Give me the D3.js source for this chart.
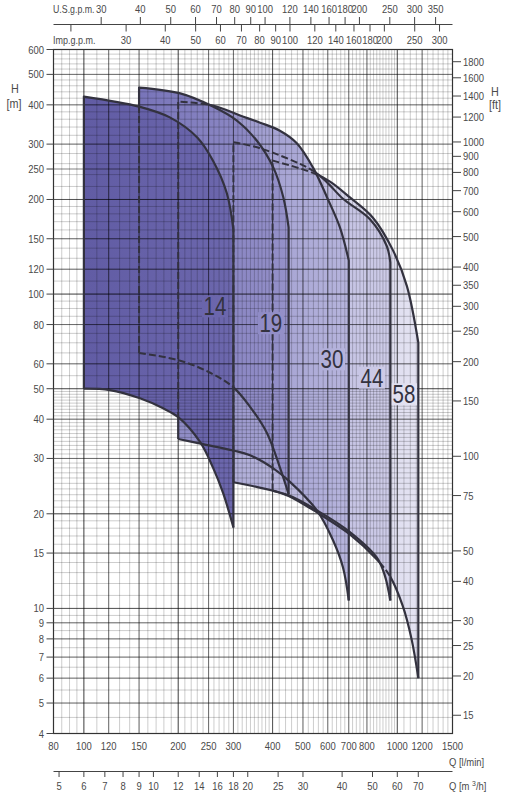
<!DOCTYPE html>
<html><head><meta charset="utf-8">
<script src="https://cdn.jsdelivr.net/npm/d3@7"></script>
<style>
html,body{margin:0;padding:0;background:#fff;}
svg text{font-family:"Liberation Sans",Arial,sans-serif;fill:#4a4a4a;}
</style></head><body>
<svg id="chart" width="513" height="800"></svg>
<script>
// ---------- data ----------
const Q_TICKS = [80,100,120,150,200,250,300,400,500,600,700,800,1000,1200,1500];
const M3H_TICKS = [5,6,7,8,9,10,12,14,16,18,20,25,30,40,50,60,70];
const USGPM_TICKS = [30,40,50,60,70,80,90,100,120,140,160,180,200,250,300,350];
const IMPGPM_TICKS = [20,30,40,50,60,70,80,90,100,120,140,160,180,200,250,300];
const IMPGPM_UNLABELED = [20];
const H_TICKS = [600,500,400,300,250,200,150,120,100,80,60,50,40,30,20,15,10,9,8,7,6,5,4];
const FT_TICKS = [1800,1600,1400,1200,1000,900,800,700,600,500,400,350,300,250,200,150,100,75,50,40,30,25,20,15];

const SERIES = ["14","19","30","44","58"];
const Q_MIN = [100,150,200,300,400];
const Q_MAX = [300,450,700,950,1167];
// [Q l/min, H m]
const TOP_14 = [[100,425],[150,395],[188,365],[230,315],[258,266],[286,209],[300,160]];
const BOT_14 = [[100,50],[121,49.5],[151,46.6],[179,43.3],[200,40.6],[235,33.8],[258,28.1],[278,23.3],[300,18.1]];
const TOP_19 = [[150,454],[203,435],[258,395],[307,357],[356,308],[402,253],[433,203],[450,163]];
const BOT_19 = [[150,65],[203,61.4],[253,56.2],[300,50.5],[339,43.8],[384,36.1],[422,28.1],[450,23.1]];
const TOP_30 = [[200,410],[258,398],[315,370],[365,351],[422,331],[478,302],[538,253],[597,203],[656,163],[700,128]];
const BOT_30 = [[200,34.6],[240,33.3],[300,31.8],[339,30.7],[402,27.9],[450,25.5],[554,20.5],[623,16.5],[671,13.5],[700,10.6]];
const TOP_44 = [[300,304],[365,291],[538,247],[601,225],[671,201],[818,173],[926,142],[950,126]];
const BOT_44 = [[300,25.2],[339,24.6],[450,22.9],[554,20.5],[706,17.5],[861,14.5],[913,12.7],[950,10.6]];
const TOP_58 = [[400,266],[538,243],[610,228],[706,203],[836,175],[968,138],[1073,106],[1167,70]];
const BOT_58 = [[400,23.7],[450,22.8],[554,20.2],[706,17.2],[861,14.3],[950,12.6],[1040,10.2],[1110,8],[1167,6]];
const TOPS = [TOP_14,TOP_19,TOP_30,TOP_44,TOP_58];
const BOTS = [BOT_14,BOT_19,BOT_30,BOT_44,BOT_58];
// which front series make a bottom curve dashed
const BOT_HIDDEN_BY = [[],[0],[],[],[3]];
// label anchors in data units [Q, H]
const LABEL_AT = [[262,91.4],[395,80.8],[619,62],[830,54.2],[1050,48]];

// ---------- styles ----------
const GRAD = [["#615ca4","#6c67ad"],["#7874b9","#9591c9"],["#8e8bc5","#b7b5dd"],["#afadd8","#cecce8"],["#cac9e5","#e4e3f2"]];
const INK = "#33323f";

const svg = d3.select("#chart");
const x = d3.scaleLog().domain([80,1500]).range([53.5,452.5]);
const y = d3.scaleLog().domain([4,600]).range([733.5,49.5]);
const X0 = x.range()[0], X1 = x.range()[1], Y0 = y.range()[1], Y1 = y.range()[0];

function txt(g, xx, yy, str, anchor, size, sx){
  return g.append("text").attr("transform",`translate(${xx},${yy}) scale(${sx||0.86},1)`)
    .attr("text-anchor",anchor||"start").style("font-size",size||"11px").text(str);
}

const defs = svg.append("defs");
const line = d3.line().x(d=>x(d[0])).y(d=>y(d[1])).curve(d3.curveCatmullRom.alpha(0.5));
function upperPath(i){
  const t = line(TOPS[i]);
  const b = BOTS[i];
  return `M${x(b[0][0])},${y(b[0][1])}L` + t.slice(1) + `L${x(b[b.length-1][0])},${y(b[b.length-1][1])}`;
}
function bottomPath(i){ return line(BOTS[i]); }
function regionPath(i){
  const t = line(TOPS[i]);
  const b = line(BOTS[i].slice().reverse());
  return t + "L" + b.slice(1) + "Z";
}
const paths = SERIES.map((s,i)=>regionPath(i));

SERIES.forEach((s,i)=>{
  const g = defs.append("linearGradient").attr("id","g"+i).attr("gradientUnits","userSpaceOnUse")
    .attr("x1",x(Q_MIN[i])).attr("x2",x(Q_MAX[i])).attr("y1",0).attr("y2",0);
  g.append("stop").attr("offset",0).attr("stop-color",GRAD[i][0]);
  g.append("stop").attr("offset",1).attr("stop-color",GRAD[i][1]);
});
function makeMasks(id, hiders){
  const mv = defs.append("mask").attr("id","mv"+id).attr("maskUnits","userSpaceOnUse")
    .attr("x",0).attr("y",0).attr("width",513).attr("height",800);
  mv.append("rect").attr("width",513).attr("height",800).attr("fill","#fff");
  const mh = defs.append("mask").attr("id","mh"+id).attr("maskUnits","userSpaceOnUse")
    .attr("x",0).attr("y",0).attr("width",513).attr("height",800);
  mh.append("rect").attr("width",513).attr("height",800).attr("fill","#000");
  hiders.forEach(j=>{
    mv.append("path").attr("d",paths[j]).attr("fill","#000");
    mh.append("path").attr("d",paths[j]).attr("fill","#fff");
  });
}
SERIES.forEach((s,i)=>{
  makeMasks("u"+i, d3.range(i));
  makeMasks("b"+i, BOT_HIDDEN_BY[i]);
});

// fills, back to front
for(let i=SERIES.length-1;i>=0;i--){
  svg.append("path").attr("d",paths[i]).attr("fill","url(#g"+i+")");
}

// ---------- grid ----------
function seq(a,b,s){const r=[];for(let v=a;v<=b+1e-9;v+=s)r.push(+v.toFixed(4));return r;}
const minorQ = [].concat(seq(80,100,5),seq(100,200,10),seq(200,400,10),seq(400,1000,20),seq(1000,1500,50));
const minorH = [].concat(seq(4,10,0.5),seq(10,20,1),seq(20,50,1),seq(50,100,5),seq(100,200,10),seq(200,600,20));
const gGrid = svg.append("g");
gGrid.selectAll(".vq").data(minorQ).enter().append("line")
  .attr("x1",d=>x(d)).attr("x2",d=>x(d)).attr("y1",Y0).attr("y2",Y1)
  .attr("stroke","#000").attr("stroke-opacity",0.25).attr("stroke-width",0.8);
gGrid.selectAll(".hq").data(minorH).enter().append("line")
  .attr("y1",d=>y(d)).attr("y2",d=>y(d)).attr("x1",X0).attr("x2",X1)
  .attr("stroke","#000").attr("stroke-opacity",0.25).attr("stroke-width",0.8);
gGrid.selectAll(".vM").data(Q_TICKS).enter().append("line")
  .attr("x1",d=>x(d)).attr("x2",d=>x(d)).attr("y1",Y0).attr("y2",Y1)
  .attr("stroke","#000").attr("stroke-opacity",0.55).attr("stroke-width",0.9);
gGrid.selectAll(".hM").data(H_TICKS).enter().append("line")
  .attr("y1",d=>y(d)).attr("y2",d=>y(d)).attr("x1",X0).attr("x2",X1)
  .attr("stroke","#000").attr("stroke-opacity",0.55).attr("stroke-width",0.9);

// ---------- hidden (dashed) outlines ----------
SERIES.forEach((s,i)=>{
  if(i>0) svg.append("path").attr("d",upperPath(i)).attr("fill","none").attr("stroke",INK)
    .attr("stroke-width",2).attr("stroke-dasharray","7,3").attr("mask","url(#mhu"+i+")");
  if(BOT_HIDDEN_BY[i].length) svg.append("path").attr("d",bottomPath(i)).attr("fill","none").attr("stroke",INK)
    .attr("stroke-width",2).attr("stroke-dasharray","7,3").attr("mask","url(#mhb"+i+")");
});
// series labels
const gLab = svg.append("g");
SERIES.forEach((s,i)=>{
  const cx = x(LABEL_AT[i][0]), cy = y(LABEL_AT[i][1]);
  gLab.append("rect").attr("x",cx-13).attr("y",cy-11).attr("width",26).attr("height",22).attr("fill","url(#g"+i+")");
  txt(gLab, cx, cy+9, s, "middle", "25px", 0.82).style("fill",INK);
});
// visible (solid) outlines
for(let i=SERIES.length-1;i>=0;i--){
  svg.append("path").attr("d",upperPath(i)).attr("fill","none").attr("stroke",INK)
    .attr("stroke-width",2.2).attr("stroke-linejoin","round").attr("mask","url(#mvu"+i+")");
  svg.append("path").attr("d",bottomPath(i)).attr("fill","none").attr("stroke",INK)
    .attr("stroke-width",2.2).attr("stroke-linejoin","round").attr("mask","url(#mvb"+i+")");
}

// ---------- frame and axes ----------
svg.append("rect").attr("x",X0).attr("y",Y0).attr("width",X1-X0).attr("height",Y1-Y0)
  .attr("fill","none").attr("stroke","#333").attr("stroke-width",1.2);
const fs = "11px";
const gl = svg.append("g");
H_TICKS.forEach(v=>{
  gl.append("line").attr("x1",46.5).attr("x2",X0).attr("y1",y(v)).attr("y2",y(v)).attr("stroke","#444");
  txt(gl, 44, y(v)+4, v, "end", fs);
});
txt(svg, 15, 93, "H", "middle", "12px", 0.9);
txt(svg, 14, 108, "[m]", "middle", "12px", 0.9);
FT_TICKS.forEach(v=>{
  const yy = y(v*0.3048);
  gl.append("line").attr("x1",X1).attr("x2",461).attr("y1",yy).attr("y2",yy).attr("stroke","#444");
  txt(gl, 463, yy+4, v, "start", fs);
});
txt(svg, 495, 96, "H", "middle", "12px", 0.9);
txt(svg, 495, 109, "[ft]", "middle", "12px", 0.9);
Q_TICKS.forEach(v=>{ txt(gl, x(v), 750, v, "middle", fs); });
txt(svg, 449, 766, "Q [l/min]", "start", fs);
svg.append("line").attr("x1",X0).attr("x2",X1).attr("y1",771.5).attr("y2",771.5).attr("stroke","#444");
M3H_TICKS.forEach(v=>{
  const xx = x(v*1000/60);
  gl.append("line").attr("x1",xx).attr("x2",xx).attr("y1",771.5).attr("y2",777).attr("stroke","#444");
  txt(gl, xx, 790, v, "middle", fs);
});
const tm = txt(svg, 449, 790, "", "start", fs).text(null);
tm.append("tspan").text("Q [m ");
tm.append("tspan").attr("dy",-4).style("font-size","8px").text("3");
tm.append("tspan").attr("dy",4).text("/h]");
svg.append("line").attr("x1",X0).attr("x2",X1).attr("y1",24.5).attr("y2",24.5).attr("stroke","#444");
USGPM_TICKS.forEach(v=>{
  const xx = x(v*3.78541);
  gl.append("line").attr("x1",xx).attr("x2",xx).attr("y1",17).attr("y2",24.5).attr("stroke","#444");
  txt(gl, xx, 13, v, "middle", fs);
});
IMPGPM_TICKS.forEach(v=>{
  const xx = x(v*4.54609);
  gl.append("line").attr("x1",xx).attr("x2",xx).attr("y1",24.5).attr("y2",31.5).attr("stroke","#444");
  if(!IMPGPM_UNLABELED.includes(v)) txt(gl, xx, 44, v, "middle", fs);
});
txt(svg, 53, 13, "U.S.g.p.m.", "start", fs, 0.8);
txt(svg, 53, 44, "Imp.g.p.m.", "start", fs, 0.82);
</script>
</body></html>
